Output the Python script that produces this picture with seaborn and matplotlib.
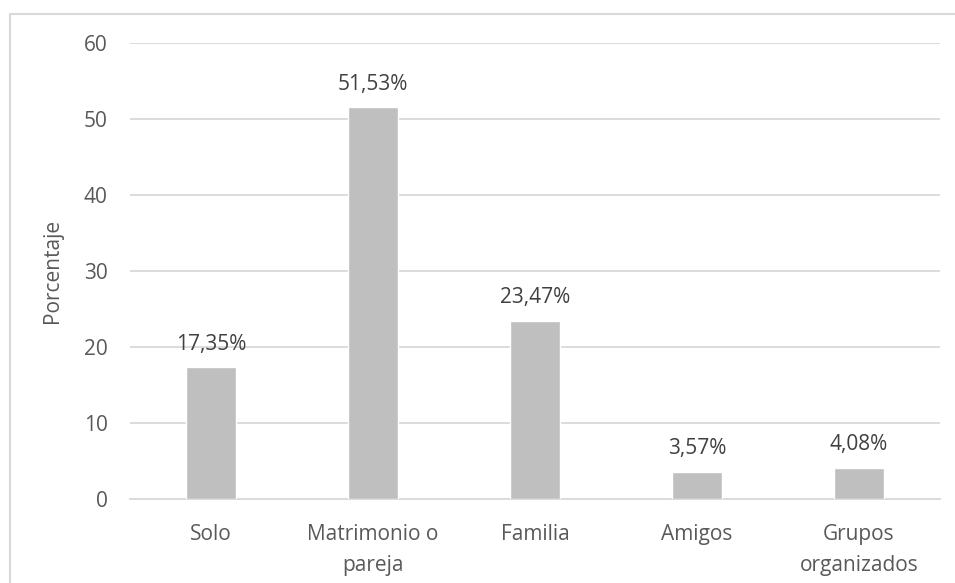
import matplotlib
matplotlib.use("Agg")
import matplotlib.pyplot as plt
from matplotlib.patches import Rectangle
import seaborn as sns
import pandas as pd

categories = ["Solo", "Matrimonio o\npareja", "Familia", "Amigos", "Grupos\norganizados"]
values = [17.35, 51.53, 23.47, 3.57, 4.08]
yticks = [0, 10, 20, 30, 40, 50, 60]

df = pd.DataFrame({"categoria": categories, "porcentaje": values})

sns.set_theme(style="white")
plt.rcParams["font.family"] = ["Open Sans", "DejaVu Sans"]

text_color = "#595959"
grid_color = "#D9D9D9"
fs = 15

fig = plt.figure(figsize=(9.55, 5.83), dpi=100)
ax = fig.add_axes([130 / 955, 1 - 499 / 583, 810 / 955, 456 / 583])

sns.barplot(data=df, x="categoria", y="porcentaje", color="#BFBFBF",
            saturation=1, width=0.31, ax=ax, zorder=3)

ax.set_ylim(0, 60)
ax.set_yticks(yticks)
ax.set_xlim(-0.5, len(categories) - 0.5)
ax.yaxis.grid(True, color=grid_color, linewidth=1.3, zorder=0)
ax.set_axisbelow(True)
for s in ["top", "right", "left"]:
    ax.spines[s].set_visible(False)
ax.spines["bottom"].set_color(grid_color)
ax.spines["bottom"].set_linewidth(1.3)

ax.tick_params(axis="both", length=0, labelsize=fs, labelcolor=text_color)
ax.tick_params(axis="y", pad=16)
ax.tick_params(axis="x", pad=18)
for lbl in ax.get_xticklabels():
    lbl.set_linespacing(1.6)
ax.set_xlabel("")
ax.set_ylabel("Porcentaje", fontsize=fs, color=text_color, labelpad=15)

for i, v in enumerate(values):
    ax.annotate(f"{v:.2f}%".replace(".", ","), (i, v), xytext=(0, 9),
                textcoords="offset points", ha="center", va="bottom",
                fontsize=fs, color="#404040")

# outer chart frame
fig.patches.append(Rectangle((10 / 955, -0.1), 1.2, 1 - 14 / 583 + 0.1,
                             transform=fig.transFigure, fill=False,
                             edgecolor=grid_color, linewidth=1.5))

fig.savefig("out.png", dpi=100)
